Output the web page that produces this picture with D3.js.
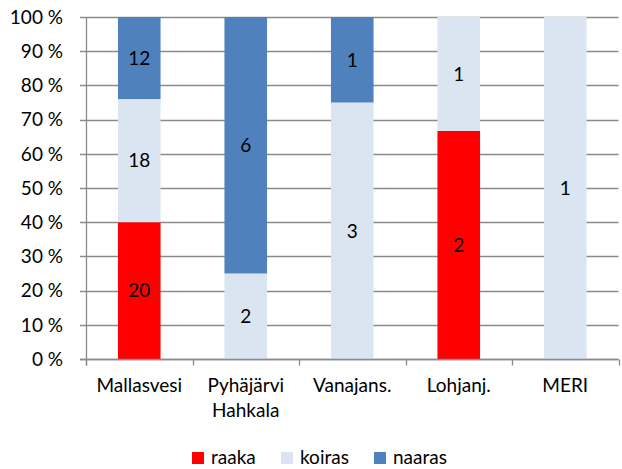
<!DOCTYPE html>
<html>
<head>
<meta charset="utf-8">
<script src="https://cdn.jsdelivr.net/npm/d3@7"></script>
<style>
  html, body { margin: 0; padding: 0; background: #fff; }
  svg { display: block; font-family: Lato, "Open Sans", sans-serif; }
</style>
</head>
<body>
<svg id="chart" width="622" height="469"></svg>
<script>
// Sites (x-axis categories); "\n" breaks a label onto two lines
const categories = ["Mallasvesi", "Pyhäjärvi\nHahkala", "Vanajans.", "Lohjanj.", "MERI"];
// Counts per site for each group
const raaka  = [20, 0, 0, 2, 0];
const koiras = [18, 2, 3, 1, 1];
const naaras = [12, 6, 1, 0, 0];
const seriesNames = ["raaka", "koiras", "naaras"];
const seriesColors = ["#FF0000", "#DBE5F1", "#4F81BD"];
const yTicks = [0, 0.1, 0.2, 0.3, 0.4, 0.5, 0.6, 0.7, 0.8, 0.9, 1];

const svg = d3.select("#chart");
const margin = { left: 86, right: 3.5, top: 17, bottom: 110 };
const W = 622, H = 469;
const FS = 19;

const rows = categories.map((c, i) => ({ cat: c, raaka: raaka[i], koiras: koiras[i], naaras: naaras[i] }));
const stack = d3.stack().keys(seriesNames).offset(d3.stackOffsetExpand);
const series = stack(rows);

const x = d3.scaleBand().domain(categories).range([margin.left, W - margin.right]).paddingInner(0.6).paddingOuter(0.3);
const xb = d3.scaleBand().domain(categories).range([margin.left, W - margin.right]);
const y = d3.scaleLinear().domain([0, 1]).range([H - margin.bottom, margin.top]);
const color = d3.scaleOrdinal().domain(seriesNames).range(seriesColors);

// horizontal gridlines with short ticks left of the axis
svg.append("g").selectAll("line").data(yTicks).join("line")
  .attr("x1", margin.left - 6).attr("x2", W - margin.right)
  .attr("y1", d => Math.round(y(d)) + 0.5).attr("y2", d => Math.round(y(d)) + 0.5)
  .attr("stroke", "#8a8a8a").attr("stroke-width", 1.3);

// y tick labels
svg.append("g").selectAll("text").data(yTicks).join("text")
  .attr("x", 63).attr("y", d => y(d)).attr("dy", "0.36em")
  .attr("text-anchor", "end").attr("font-size", FS).attr("fill", "#000")
  .text(d => Math.round(d * 100) + " %");

// stacked bars
const gs = svg.append("g").selectAll("g").data(series).join("g").attr("fill", d => color(d.key));
gs.selectAll("rect").data(d => d.map(p => ({ key: d.key, p })))
  .join("rect")
  .attr("x", d => x(d.p.data.cat))
  .attr("width", x.bandwidth())
  .attr("y", d => y(d.p[1]))
  .attr("height", d => y(d.p[0]) - y(d.p[1]));

// value labels centred in each segment
const lbl = svg.append("g");
series.forEach(s => {
  s.forEach(p => {
    const v = p.data[s.key];
    if (!v) return;
    lbl.append("text")
      .attr("x", x(p.data.cat) + x.bandwidth() / 2)
      .attr("y", y((p[0] + p[1]) / 2)).attr("dy", "0.36em")
      .attr("text-anchor", "middle").attr("font-size", FS).attr("fill", "#000")
      .text(v);
  });
});

// axes lines
const x0 = margin.left + 0.5, yb = Math.round(y(0)) + 0.5;
svg.append("line").attr("x1", x0).attr("x2", x0).attr("y1", y(1)).attr("y2", yb + 6)
  .attr("stroke", "#8a8a8a").attr("stroke-width", 1.3);
svg.append("line").attr("x1", margin.left - 6).attr("x2", W - margin.right).attr("y1", yb).attr("y2", yb)
  .attr("stroke", "#8a8a8a").attr("stroke-width", 1.3);
// category boundary ticks
const bounds = categories.map(c => xb(c)).concat([W - margin.right]);
svg.append("g").selectAll("line").data(bounds).join("line")
  .attr("x1", d => Math.round(d) + 0.5).attr("x2", d => Math.round(d) + 0.5)
  .attr("y1", yb).attr("y2", yb + 6)
  .attr("stroke", "#8a8a8a").attr("stroke-width", 1.3);

// category labels
svg.append("g").selectAll("text").data(categories).join("text")
  .attr("x", d => xb(d) + xb.bandwidth() / 2).attr("y", 392)
  .attr("text-anchor", "middle").attr("font-size", FS).attr("fill", "#000")
  .each(function (d) {
    d.split("\n").forEach((line, i) => {
      d3.select(this).append("tspan").attr("x", xb(d) + xb.bandwidth() / 2).attr("dy", i ? 25 : 0).text(line);
    });
  });

// legend
const legX = [192, 281, 374];
const leg = svg.append("g").selectAll("g").data(seriesNames).join("g")
  .attr("transform", (d, i) => `translate(${legX[i]},452)`);
leg.append("rect").attr("width", 12).attr("height", 12).attr("fill", d => color(d));
leg.append("text").attr("x", 19).attr("y", 12)
  .attr("font-size", FS).attr("fill", "#000").text(d => d);
</script>
</body>
</html>
